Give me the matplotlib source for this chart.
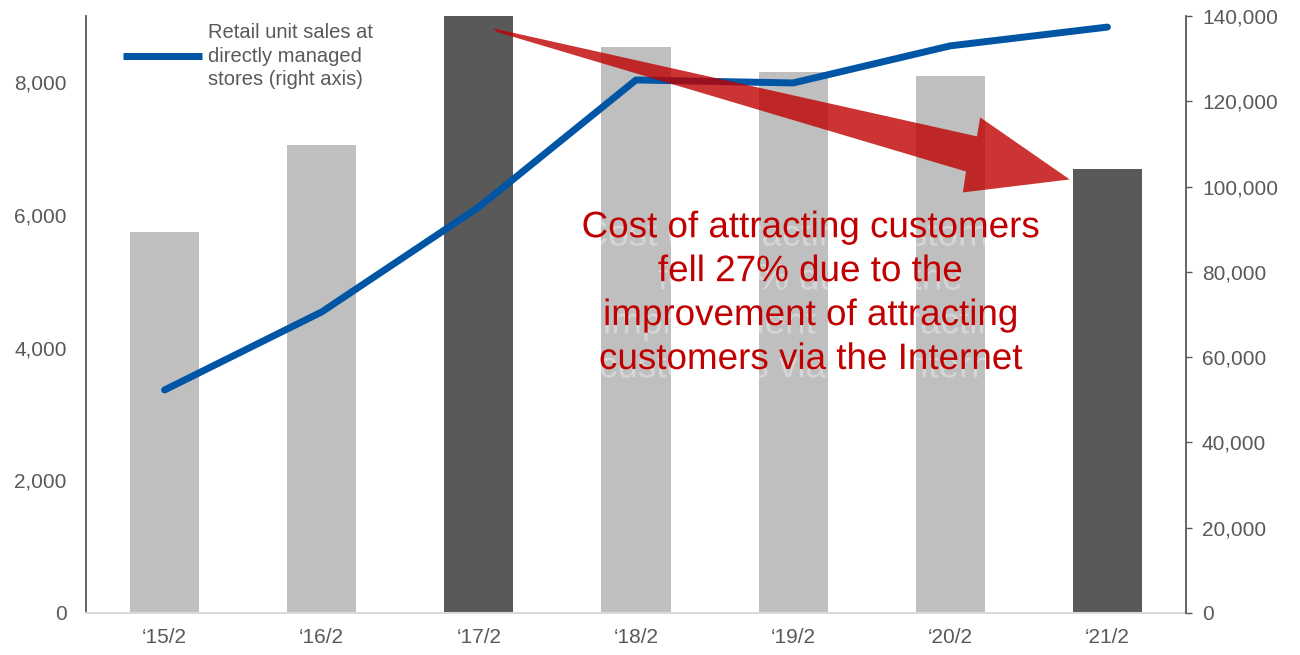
import numpy as np
import matplotlib
matplotlib.use("Agg")
import matplotlib.pyplot as plt
from matplotlib.patches import Polygon
import matplotlib.patheffects as pe

plt.rcParams["font.family"] = ["Liberation Sans", "DejaVu Sans"]

# ---------------------------------------------------------------------------
# Data
# ---------------------------------------------------------------------------
periods = ["\u201815/2", "\u201816/2", "\u201817/2", "\u201818/2",
           "\u201819/2", "\u201820/2", "\u201821/2"]
ad_cost = [5740, 7060, 9000, 8540, 8150, 8090, 6690]          # left axis
retail_units = [52300, 70600, 95200, 125000, 124300, 133000, 137400]  # right axis
highlight = [False, False, True, False, False, False, True]

LIGHT = "#BFBFBF"
DARK = "#595959"
BLUE = "#0055A5"
RED = "#C00000"
TXT = "#595959"

# arrow outline (x in category index, y in left-axis units)
arrow_x = [2.09, 5.17, 5.19, 5.76, 5.08, 5.10, 2.12]
arrow_y = [8815, 7185, 7472, 6536, 6340, 6656, 8755]

note = ("Cost of attracting customers\nfell 27% due to the\n"
        "improvement of attracting\ncustomers via the Internet")

# ---------------------------------------------------------------------------
# Plot
# ---------------------------------------------------------------------------
fig = plt.figure(figsize=(13, 6.55), dpi=100)
ax = fig.add_axes([86 / 1300, 42 / 655, 1100 / 1300, 597 / 655])
x = np.arange(len(periods))

colors = [DARK if h else LIGHT for h in highlight]
ax.bar(x, ad_cost, width=0.44, color=colors, zorder=2)
ax.set_xlim(-0.5, len(periods) - 0.5)
ax.set_ylim(0, 9000)
ax.set_yticks(range(0, 9000, 2000))
ax.set_yticklabels([f"{v:,}" for v in range(0, 9000, 2000)])
ax.set_xticks(x)
ax.set_xticklabels(periods)
ax.tick_params(axis="y", length=0, pad=14, labelsize=15, labelcolor=TXT)
ax.tick_params(axis="x", length=0, pad=11, labelsize=15, labelcolor=TXT)

for side in ("top", "right"):
    ax.spines[side].set_visible(False)
ax.spines["left"].set_color(DARK)
ax.spines["left"].set_linewidth(1.3)
ax.spines["bottom"].set_color("#D9D9D9")
ax.spines["bottom"].set_linewidth(1.5)

ax2 = ax.twinx()
ax2.plot(x, retail_units, color=BLUE, lw=5, solid_capstyle="round",
         solid_joinstyle="round", zorder=3,
         label="Retail unit sales at\ndirectly managed\nstores (right axis)")
ax2.set_ylim(0, 140000)
ax2.set_yticks(range(0, 140001, 20000))
ax2.set_yticklabels([f"{v:,}" for v in range(0, 140001, 20000)])
ax2.tick_params(axis="y", length=4.5, width=1, color=DARK, pad=7,
                labelsize=15, labelcolor=TXT)
for side in ("top", "left", "bottom"):
    ax2.spines[side].set_visible(False)
ax2.spines["right"].set_color(DARK)
ax2.spines["right"].set_linewidth(1.3)

# ── Red trend arrow ─────────────────────────────────────────────────────────
arrow = Polygon(np.column_stack([arrow_x, arrow_y]), closed=True,
                facecolor=RED, edgecolor="none", alpha=0.8,
                transform=ax.transData, zorder=5)
ax2.add_patch(arrow)

ax2.text(4.107, 4815, note, transform=ax.transData, ha="center",
         va="center", multialignment="center", fontsize=26.5, color=RED,
         linespacing=1.33, zorder=6,
         path_effects=[pe.withSimplePatchShadow(offset=(0, -6),
                                                shadow_rgbFace="white",
                                                alpha=0.35)])

# ── Legend ──────────────────────────────────────────────────────────────────
leg = ax2.legend(loc="upper left", bbox_to_anchor=(123 / 1300, 632 / 655),
                 bbox_transform=fig.transFigure, frameon=False,
                 fontsize=14.5, handlelength=3.9, handletextpad=0.3,
                 borderpad=0, borderaxespad=0)
for t in leg.get_texts():
    t.set_color(TXT)
    t.set_linespacing(1.3)
for h in leg.get_lines():
    h.set_solid_capstyle("butt")

fig.savefig("out.png", dpi=100, facecolor="white")
plt.close(fig)
